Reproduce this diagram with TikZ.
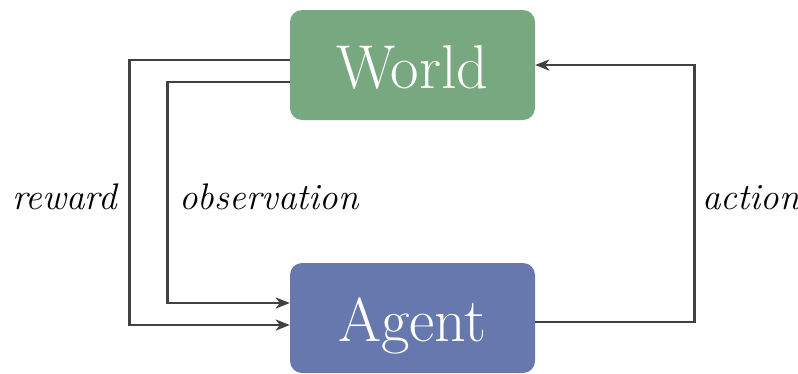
\documentclass[tikz,border=0pt]{standalone}
\usetikzlibrary{arrows.meta,calc}
\definecolor{worldgreen}{RGB}{120,168,128}
\definecolor{agentblue}{RGB}{102,120,173}
\definecolor{linegray}{RGB}{64,66,66}
\begin{document}
\begin{tikzpicture}[x=1pt,y=-1pt,
  box/.style={rectangle,rounded corners=12pt,draw=none,minimum width=245pt,minimum height=110pt,
    inner sep=0pt,text height=46pt,text depth=0pt,text=white,font=\fontsize{62}{64}\selectfont},
  conn/.style={draw=linegray,line width=2.8pt,-{Stealth[length=14pt,width=11pt,inset=4pt]}},
  lbl/.style={anchor=base,inner sep=0pt,font=\fontsize{37}{42}\selectfont\itshape}]
\useasboundingbox (0,0) rectangle (798,373);
\node[box,fill=worldgreen] (world) at (412.5,65) {World};
\node[box,fill=agentblue] (agent) at (412.5,318) {Agent};
\draw[conn] ([yshift=5pt]world.west) -- ++(-160,0) |- ([yshift=-7pt]agent.west);
\draw[conn] ([yshift=-17pt]world.west) -- ++(-122,0) |- ([yshift=15pt]agent.west);
\draw[conn] ([yshift=-4pt]agent.east) -- ++(159,0) |- (world.east);
\node[lbl] (reward) at (64.5,209) {reward};
\node[lbl] (observation) at (269,209) {observation};
\node[lbl] (action) at (751,209) {action};
\end{tikzpicture}
\end{document}
